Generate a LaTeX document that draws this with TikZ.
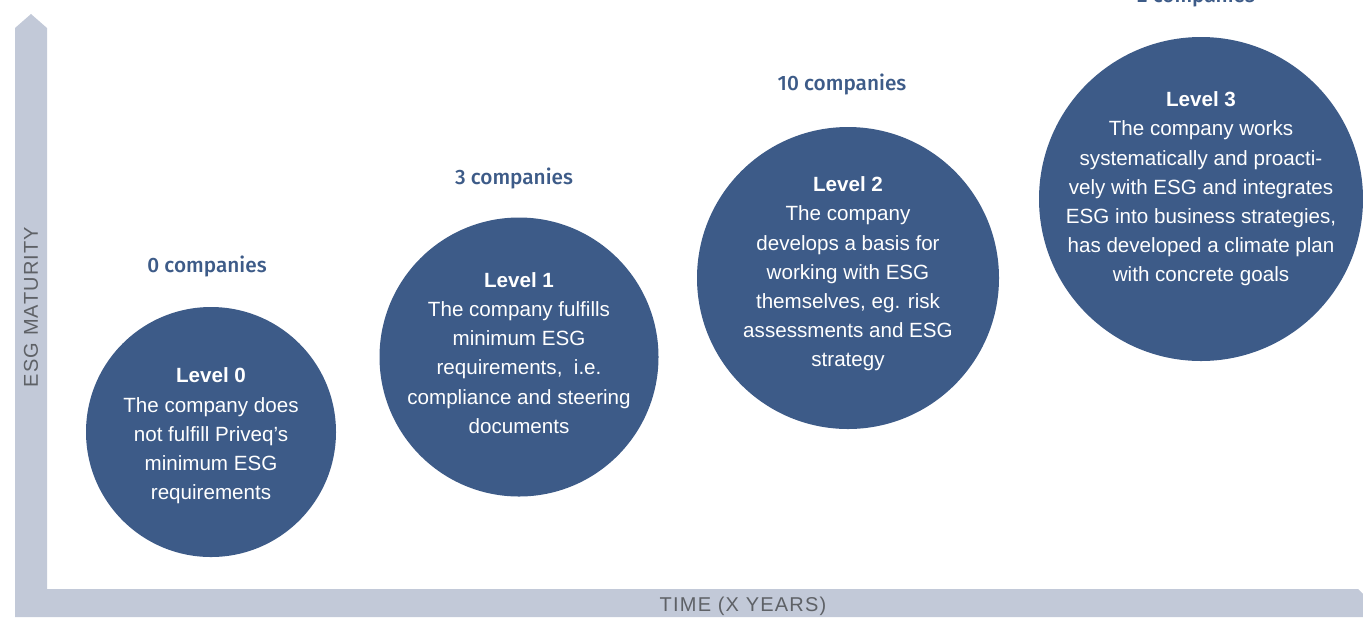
\documentclass[tikz,border=0pt]{standalone}
\usepackage{fontspec}
\setmainfont{Liberation Sans}
\newfontfamily\countfont{Fira Sans Medium}
\newfontfamily\axisfont[LetterSpace=6]{Liberation Sans}
\usetikzlibrary{positioning}

\definecolor{levelblue}{HTML}{3D5B88}
\definecolor{axisgrey}{HTML}{C2C9D8}
\definecolor{axistext}{HTML}{5E6166}

\begin{document}
\begin{tikzpicture}[x=0.5pt, y=-0.5pt]

\tikzset{level/.style = {shape=circle, fill=levelblue, inner sep=0pt}}
\tikzset{leveltext/.style = {text=white, align=center, font=\fontsize{10.3}{14.6}\selectfont}}
\tikzset{count/.style = {text=levelblue, font=\countfont\fontsize{10.4}{12}\selectfont}}
\tikzset{axislabel/.style = {text=axistext, font=\axisfont\fontsize{10}{12}\selectfont}}

\useasboundingbox (0,0) rectangle (1363,617);

%axes
\fill[axisgrey] (15,617) -- (15,28) -- (31,14) -- (47,28) -- (47,589)
  -- (1358,589) -- (1363,594) -- (1363,617) -- cycle;
\node[axislabel, rotate=90] (ylab) at (31,307) {ESG MATURITY};
\node[axislabel] (xlab) at (743,606) {TIME (X YEARS)};

%circles
\node[level, minimum size=125pt] (lvl0) at (211,432) {};
\node[level, minimum size=139.5pt] (lvl1) at (519,357) {};
\node[level, minimum size=151pt] (lvl2) at (848,278) {};
\node[level, minimum size=162pt] (lvl3) at (1201,199) {};

%texts
\node[leveltext] (txt0) at (211,436) {\textbf{Level 0}\\The company does\\not fulfill Priveq’s\\minimum ESG\\requirements};
\node[leveltext] (txt1) at (519,353) {\textbf{Level 1}\\The company fulfills\\minimum ESG\\requirements,\ \ i.e.\\compliance and steering\\documents};
\node[leveltext] (txt2) at (848,274) {\textbf{Level 2}\\The company\\develops a basis for\\working with ESG\\themselves, eg. risk\\assessments and ESG\\strategy};
\node[leveltext] (txt3) at (1201,189) {\textbf{Level 3}\\The company works\\systematically and proacti-\\vely with ESG and integrates\\ESG into business strategies,\\has developed a climate plan\\with concrete goals};

%counts
\node[count] (cnt0) at (207,266) {0 companies};
\node[count] (cnt1) at (514,178) {3 companies};
\node[count] (cnt2) at (842,84) {10 companies};
\node[count] (cnt3) at (1196,-4) {2 companies};

\end{tikzpicture}
\end{document}
